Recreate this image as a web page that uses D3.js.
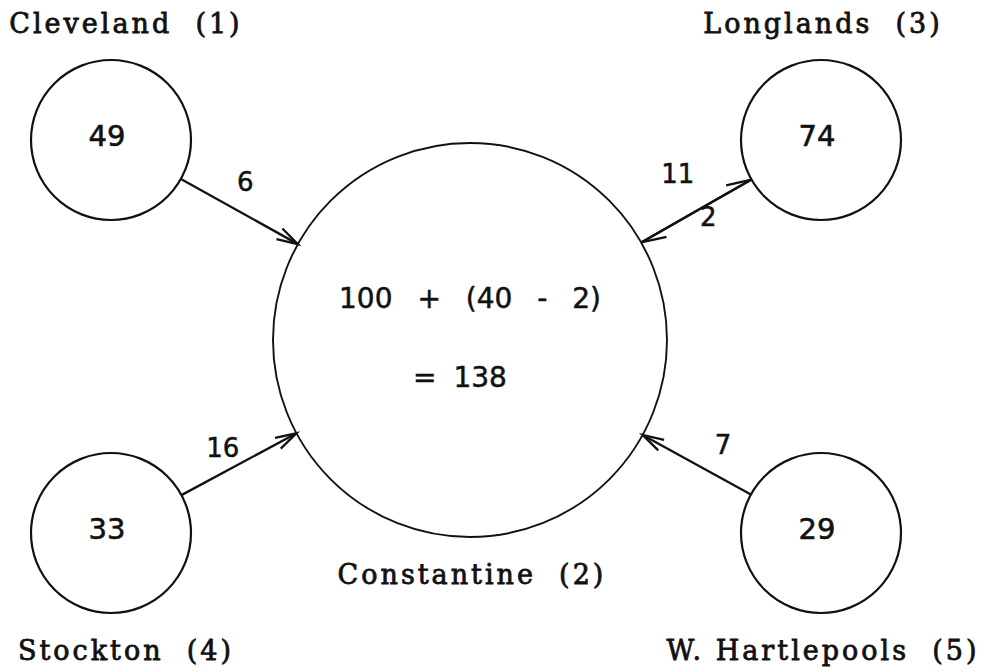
<!DOCTYPE html>
<html>
<head>
<meta charset="utf-8">
<script src="https://cdn.jsdelivr.net/npm/d3@7"></script>
<style>
  body { margin: 0; background: #fff; }
  svg text { fill: #111; }
  .name { font-family: "DejaVu Serif", serif; font-size: 27px; letter-spacing: 3px; white-space: pre; stroke: #111; stroke-width: 0.8px; }
  .num { font-family: "DejaVu Sans", sans-serif; font-size: 29px; stroke: #111; stroke-width: 0.6px; }
  .flowval { font-family: "DejaVu Sans", sans-serif; font-size: 26px; stroke: #111; stroke-width: 0.5px; }
  .calc { font-family: "DejaVu Sans", sans-serif; font-size: 28px; white-space: pre; stroke: #111; stroke-width: 0.5px; }
</style>
</head>
<body>
<svg id="chart" width="1008" height="671"></svg>
<script>
// places and their own totals
var places = ['Cleveland', 'Constantine', 'Longlands', 'Stockton', 'W. Hartlepools'];
var placeIds = [1, 2, 3, 4, 5];
var placeValues = [49, 100, 74, 33, 29];

// transfers between places
var flowFrom = ['Cleveland', 'Stockton', 'W. Hartlepools', 'Longlands', 'Constantine'];
var flowTo = ['Constantine', 'Constantine', 'Constantine', 'Constantine', 'Longlands'];
var flowValues = [6, 16, 7, 11, 2];

var hub = 'Constantine';

// layout (grid slot per place, flow label placement along / across the line)
var slots = {
	'Cleveland': [-1, -1], 'Constantine': [0, 0], 'Longlands': [1, -1],
	'Stockton': [-1, 1], 'W. Hartlepools': [1, 1]
};
var flowLabelAt = [[0.43, 29], [0.45, 22], [0.39, -30], [0.48, -42], [0.56, -11]];

var svg = d3.select('#chart');
var x = d3.scaleLinear().domain([-1, 0, 1]).range([111, 470, 821]);
var y = d3.scaleLinear().domain([-1, 0, 1]).range([140, 340, 533]);

var nodes = places.map(function(name, i) {
	return {
		name: name, id: placeIds[i], value: placeValues[i],
		x: x(slots[name][0]), y: y(slots[name][1]),
		r: name === hub ? 197 : 80,
		col: slots[name][0], row: slots[name][1]
	};
});
var byName = {};
nodes.forEach(function(n) { byName[n.name] = n; });

var flows = flowValues.map(function(v, i) {
	var a = byName[flowFrom[i]], b = byName[flowTo[i]];
	var dx = b.x - a.x, dy = b.y - a.y, len = Math.sqrt(dx * dx + dy * dy);
	var ux = dx / len, uy = dy / len;
	var f = {
		value: v, ux: ux, uy: uy,
		x1: a.x + ux * a.r, y1: a.y + uy * a.r,
		x2: b.x - ux * b.r, y2: b.y - uy * b.r
	};
	f.paired = flowFrom.some(function(s, j) { return s === flowTo[i] && flowTo[j] === flowFrom[i]; });
	var t = flowLabelAt[i][0], n = flowLabelAt[i][1];
	f.lx = f.x1 + (f.x2 - f.x1) * t + uy * n;
	f.ly = f.y1 + (f.y2 - f.y1) * t - ux * n;
	return f;
});

// circles
svg.selectAll('circle.place').data(nodes).enter().append('circle')
	.attr('class', 'place')
	.attr('cx', function(d) { return d.x; })
	.attr('cy', function(d) { return d.y; })
	.attr('r', function(d) { return d.r; })
	.attr('fill', 'none').attr('stroke', '#111')
	.attr('stroke-width', function(d) { return d.name === hub ? 1.9 : 2.2; });

// flow lines
svg.selectAll('line.link').data(flows).enter().append('line')
	.attr('class', 'link')
	.attr('x1', function(d) { return d.x1; }).attr('y1', function(d) { return d.y1; })
	.attr('x2', function(d) { return d.x2; }).attr('y2', function(d) { return d.y2; })
	.attr('stroke', '#111').attr('stroke-width', 2.3);

// arrow heads, a single barb where two flows share one line
svg.selectAll('path.head').data(flows).enter().append('path')
	.attr('class', 'head')
	.attr('d', function(d) {
		var L = d.paired ? 26 : 22, ang = (d.paired ? 17 : 16) * Math.PI / 180;
		var bx = -d.ux, by = -d.uy;
		function barb(s) {
			var c = Math.cos(s * ang), sn = Math.sin(s * ang);
			return [d.x2 + L * (bx * c - by * sn), d.y2 + L * (bx * sn + by * c)];
		}
		var left = barb(1), right = barb(-1);
		// left of travel direction is (uy, -ux)
		var leftIsPlus = (left[0] - d.x2) * d.uy - (left[1] - d.y2) * d.ux > 0;
		var lb = leftIsPlus ? left : right, rb = leftIsPlus ? right : left;
		if (d.paired) return 'M' + lb + 'L' + d.x2 + ',' + d.y2;
		return 'M' + lb + 'L' + d.x2 + ',' + d.y2 + 'L' + rb;
	})
	.attr('fill', 'none').attr('stroke', '#111').attr('stroke-width', 2.3)
	.attr('stroke-linejoin', 'miter');

// flow values
svg.selectAll('text.flowval').data(flows).enter().append('text')
	.attr('class', 'flowval')
	.attr('x', function(d) { return d.lx; })
	.attr('y', function(d) { return d.ly; })
	.attr('dy', '0.36em')
	.attr('text-anchor', 'middle')
	.text(function(d) { return d.value; });

// values inside the small circles
svg.selectAll('text.num').data(nodes.filter(function(d) { return d.name !== hub; })).enter().append('text')
	.attr('class', 'num')
	.attr('x', function(d) { return d.x - 4; })
	.attr('y', function(d) { return d.y; })
	.attr('dy', '0.2em')
	.attr('text-anchor', 'middle')
	.text(function(d) { return d.value; });

// hub calculation
var h = byName[hub];
var inflow = d3.sum(flows.filter(function(f, i) { return flowTo[i] === hub; }), function(f) { return f.value; });
var outflow = d3.sum(flows.filter(function(f, i) { return flowFrom[i] === hub; }), function(f) { return f.value; });
svg.append('text').attr('class', 'calc')
	.attr('x', h.x).attr('y', h.y - 32)
	.attr('text-anchor', 'middle')
	.style('word-spacing', '16px')
	.text(h.value + ' + (' + inflow + ' - ' + outflow + ')');
svg.append('text').attr('class', 'calc')
	.attr('x', h.x - 10).attr('y', h.y + 47)
	.attr('text-anchor', 'middle')
	.style('word-spacing', '8px')
	.text('= ' + (h.value + inflow - outflow));

// place names
svg.selectAll('text.name').data(nodes).enter().append('text')
	.attr('class', 'name')
	.attr('x', function(d) { return d.x + (d.col < 0 ? 15 : 2); })
	.attr('y', function(d) { return d.row < 0 ? d.y - d.r - 27 : d.y + d.r + 47; })
	.attr('text-anchor', 'middle')
	.text(function(d) { return d.name + '  (' + d.id + ')'; });
</script>
</body>
</html>
